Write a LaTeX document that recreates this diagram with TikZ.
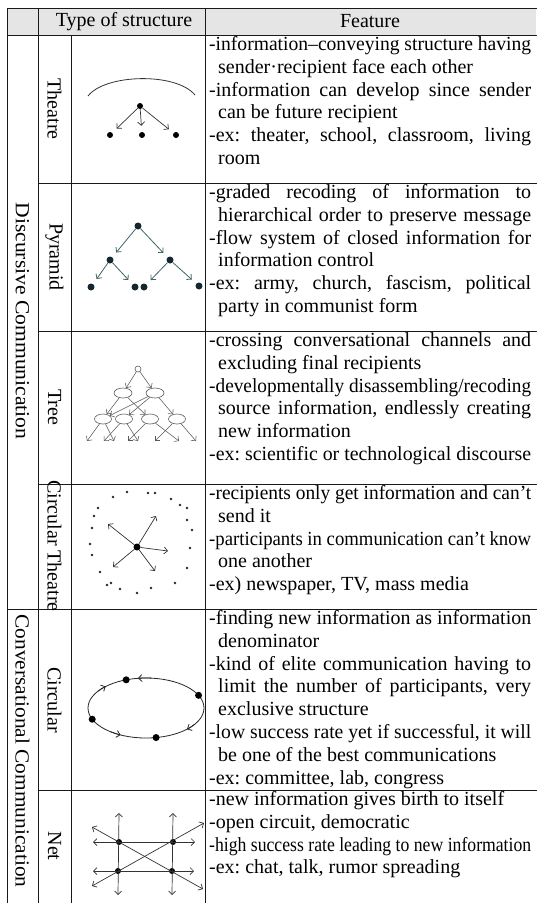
\documentclass[tikz,border=0pt]{standalone}
\usepackage{fontspec}
\setmainfont{Liberation Serif}
\usepackage{graphicx}
\usetikzlibrary{arrows.meta,shapes.geometric}

% Lines of the Feature column: justified, hanging, or squeezed when too long
\newlength\featw \setlength\featw{322pt}
\newlength\hangw \setlength\hangw{9pt}
\newlength\fitw
\newlength\natw
\newcommand\fitline[3]{%
  \setlength\fitw{\featw}\addtolength\fitw{-#1}%
  \sbox0{#3}\setlength\natw{\wd0}%
  \hbox to \featw{\hskip#1\relax
    \ifdim\natw>\fitw
      \pgfmathsetmacro\fitr{\fitw/\natw}\scalebox{\fitr}[1]{#3}%
    \else \hbox to \fitw{#3\if l#2\hfil\fi}\fi}}
\newcommand\firstln[1]{\fitline{0pt}{s}{#1}}
\newcommand\contln[1]{\fitline{\hangw}{s}{#1}}
\newcommand\lastln[1]{\fitline{\hangw}{l}{#1}}
\newcommand\oneln[1]{\fitline{0pt}{l}{#1}}

\definecolor{rulecol}{gray}{0.1}
\definecolor{headgray}{gray}{0.9}
\definecolor{pyrteal}{RGB}{62,100,100}
\definecolor{pyrdot}{RGB}{20,40,48}
\definecolor{treegray}{gray}{0.35}

\tikzset{
  grid line/.style={line width=1pt, draw=rulecol, line cap=rect},
  txt/.style={inner sep=0pt, font=\fontsize{20}{22.8}\selectfont\frenchspacing},
  feat/.style={txt, anchor=base west},
  lbl/.style={txt, rotate=-90},
  dot/.style={circle, fill=black, inner sep=0pt, minimum size=6pt},
  pdot/.style={circle, fill=pyrdot, inner sep=0pt, minimum size=7pt},
  tell/.style={ellipse, draw=treegray, line width=0.6pt, inner sep=0pt, minimum width=17pt, minimum height=10pt},
  thin arrow/.style={->, line width=0.7pt, draw=black!80},
}

\begin{document}
\begin{tikzpicture}[x=1pt,y=-1pt,>={Straight Barb[length=3.5pt,width=7pt]}]
\useasboundingbox (0,0) rectangle (536,903);

% Header row
\fill[headgray] (7,8) rectangle (536,35);
\node[txt] (hType) at (124,21.5) {Type of structure};
\node[txt] (hFeat) at (370,21.5) {Feature};

% Ruling of the table
\draw[grid line] (7,8) -- (536,8);
\draw[grid line] (7,35) -- (536,35);
\foreach \y in {183,331,484,790}
  \draw[grid line] (38,\y) -- (536,\y);
\draw[grid line] (7,609) -- (536,609);
\draw[grid line] (7,8) -- (7,903);
\draw[grid line] (38,8) -- (38,903);
\draw[grid line] (71,35) -- (71,903);
\draw[grid line] (205,8) -- (205,903);

% Group and type labels
\node[lbl, xscale=1.08] (gDisc) at (22.5,321) {Discursive Communication};
\node[lbl, xscale=1.07] (gConv) at (22.5,751) {Conversational Communication};
\node[lbl] (tTheatre) at (54.5,109) {Theatre};
\node[lbl] (tPyramid) at (54.5,257) {Pyramid};
\node[lbl] (tTree) at (54.5,407) {Tree};
\node[lbl] (tCircTh) at (54.5,546) {Circular Theatre};
\node[lbl] (tCirc) at (54.5,700) {Circular};
\node[lbl] (tNet) at (54.5,846) {Net};

% Theatre: stage arc, one sender, three recipients
\coordinate (arcL) at (88,96);
\coordinate (arcR) at (195,95);
\draw[line width=0.8pt, black!80] (arcL) .. controls (105,74) and (176,72) .. (arcR);
\node[dot] (th) at (140,106) {};
\node[dot] (th1) at (110,135) {};
\node[dot] (th2) at (142,135) {};
\node[dot] (th3) at (176,135) {};
\foreach \r in {th1,th2,th3}
  \draw[thin arrow, shorten >=6pt] (th) -- (\r);

% Pyramid
\node[pdot] (py0) at (138,226) {};
\node[pdot] (py1) at (110,260) {};
\node[pdot] (py2) at (170,260) {};
\node[pdot] (py3) at (91,287) {};
\node[pdot] (py4) at (135,287) {};
\node[pdot] (py5) at (144,287) {};
\node[pdot] (py6) at (199,286) {};
\foreach \a/\b in {py0/py1,py0/py2,py1/py3,py1/py4,py2/py5,py2/py6}
  \draw[->, line width=0.8pt, pyrteal, shorten >=6pt] (\a) -- (\b);

% Tree
\node[circle, draw=treegray, line width=0.6pt, inner sep=0pt, minimum size=6pt] (t0) at (138,369) {};
\node[tell, minimum width=18pt] (t1) at (123,393) {};
\node[tell, minimum width=18pt] (t2) at (155,393) {};
\node[tell] (t3) at (103,419) {};
\node[tell] (t4) at (124,419) {};
\node[tell] (t5) at (150,419) {};
\node[tell] (t6) at (177,419) {};
\foreach \n/\x in {b1/87,b2/104,b3/114,b4/128,b5/138,b6/155,b7/179,b8/196}
  \coordinate (\n) at (\x,441);
\foreach \a/\b in {t0/t1,t0/t2,t1/t3,t1/t5,t2/t3,t2/t4,t2/t6,
                   t3/b1,t3/b3,t4/b2,t4/b5,t5/b4,t5/b7,t6/b6,t6/b8}
  \draw[->, line width=0.55pt, treegray] (\a) -- (\b);

% Circular Theatre: a sender and scattered recipients
\foreach \x/\y in {127/492,148/493,155/493,113/497,171/499,98/508,180/505,187/508,
                   94/516,187/520,92/528,192/530,90/544,190/548,92/555,100/572,
                   107/585,111/583,120/589,137/593,151/588,175/583,187/568}
  \fill[black!85] (\x,\y) circle (1.4);
\node[dot, minimum size=7pt] (ct) at (137,547) {};
\coordinate (ct1) at (108,524);
\coordinate (ct2) at (156,516);
\coordinate (ct3) at (168,551);
\coordinate (ct4) at (113,567);
\coordinate (ct5) at (155,571);
\foreach \r in {ct1,ct2,ct3,ct4,ct5}
  \draw[thin arrow] (ct) -- (\r);

% Circular: ring with four participants
\def\cx{146}
\def\cy{708}
\draw[line width=0.8pt, black!85] (\cx,\cy) ellipse [x radius=58, y radius=30];
\foreach \s/\e in {275/262,214/226,33/45,128/116}
  \draw[->, line width=0.8pt, black!85]
    ([shift={(\cx,\cy)}]\s:58 and 30) arc[start angle=\s, end angle=\e, x radius=58, y radius=30];
\node[dot, minimum size=7pt] (ci1) at ([shift={(\cx,\cy)}]250:58 and 30) {};
\node[dot, minimum size=7pt] (ci2) at ([shift={(\cx,\cy)}]335:58 and 30) {};
\node[dot, minimum size=7pt] (ci3) at ([shift={(\cx,\cy)}]158:58 and 30) {};
\node[dot, minimum size=7pt] (ci4) at ([shift={(\cx,\cy)}]80:58 and 30) {};

% Net
\node[dot] (n1) at (119,842) {};
\node[dot] (n2) at (173,842) {};
\node[dot] (n3) at (118,871) {};
\node[dot] (n4) at (172,871) {};
\coordinate (v1a) at (119,813); \coordinate (v1b) at (118,895);
\coordinate (v2a) at (173,813); \coordinate (v2b) at (172,895);
\coordinate (h1a) at (93,842);  \coordinate (h1b) at (195,842);
\coordinate (h2a) at (93,871);  \coordinate (h2b) at (194,871);
\coordinate (d1a) at (92,827);  \coordinate (d1b) at (203,889);
\coordinate (d2a) at (92,886);  \coordinate (d2b) at (204,823);
\foreach \a/\b in {v1a/v1b,v2a/v2b,h1a/h1b,h2a/h2b,d1a/d1b,d2a/d2b}
  \draw[<->, line width=0.7pt, black!80] (\a) -- (\b);

% Feature column (first baseline of each cell)
\node[feat] (fTheatre) at (209,50.5) {\vtop{%
  \firstln{-information–conveying structure having}
  \lastln{sender·recipient face each other}
  \firstln{-information can develop since sender}
  \lastln{can be future recipient}
  \firstln{-ex: theater, school, classroom, living}
  \lastln{room}}};
\node[feat] (fPyramid) at (209,198.5) {\vtop{%
  \firstln{-graded recoding of information to}
  \contln{hierarchical order to preserve message}
  \firstln{-flow system of closed information for}
  \lastln{information control}
  \firstln{-ex: army, church, fascism, political}
  \lastln{party in communist form}}};
\node[feat] (fTree) at (209,346.5) {\vtop{%
  \firstln{-crossing conversational channels and}
  \lastln{excluding final recipients}
  \firstln{-developmentally disassembling/recoding}
  \contln{source information, endlessly creating}
  \lastln{new information}
  \firstln{-ex: scientific or technological discourse}}};
\node[feat] (fCircTh) at (209,499.5) {\vtop{%
  \firstln{-recipients only get information and can’t}
  \lastln{send it}
  \firstln{-participants in communication can’t know}
  \lastln{one another}
  \oneln{-ex) newspaper, TV, mass media}}};
\node[feat] (fCirc) at (209,624.5) {\vtop{%
  \firstln{-finding new information as information}
  \lastln{denominator}
  \firstln{-kind of elite communication having to}
  \contln{limit the number of participants, very}
  \lastln{exclusive structure}
  \firstln{-low success rate yet if successful, it will}
  \lastln{be one of the best communications}
  \oneln{-ex: committee, lab, congress}}};
\node[feat] (fNet) at (209,805.5) {\vtop{%
  \oneln{-new information gives birth to itself}
  \oneln{-open circuit, democratic}
  \firstln{-high success rate leading to new information}
  \oneln{-ex: chat, talk, rumor spreading}}};

\end{tikzpicture}
\end{document}
